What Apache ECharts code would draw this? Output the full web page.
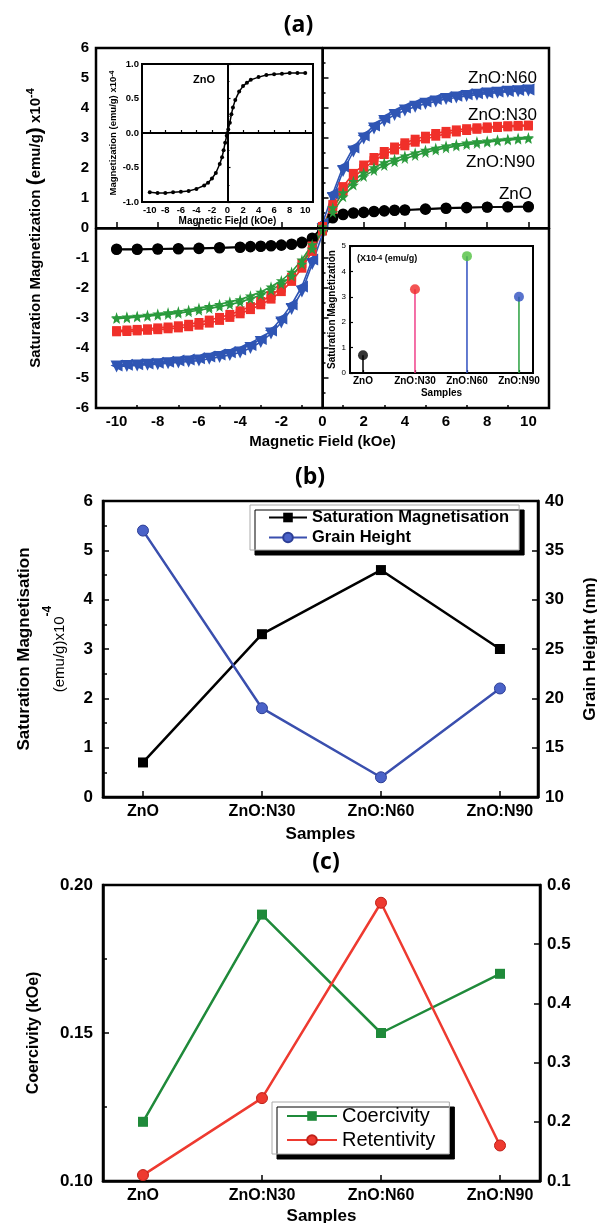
<!DOCTYPE html>
<html><head><meta charset="utf-8">
<script src="https://cdn.jsdelivr.net/npm/echarts@6/dist/echarts.min.js"></script>
<style>html,body{margin:0;padding:0;background:#fff}#c{width:597px;height:1223px}</style>
</head><body><div id="c"></div>
<script>
// ---------- (a) main hysteresis loops ----------
const fieldA = [-10,-9,-8,-7,-6,-5,-4,-3.5,-3,-2.5,-2,-1.5,-1,-0.5,0,0.5,1,1.5,2,2.5,3,3.5,4,5,6,7,8,9,10];
const fieldB = [-10,-9.5,-9,-8.5,-8,-7.5,-7,-6.5,-6,-5.5,-5,-4.5,-4,-3.5,-3,-2.5,-2,-1.5,-1,-0.5,0,0.5,1,1.5,2,2.5,3,3.5,4,4.5,5,5.5,6,6.5,7,7.5,8,8.5,9,9.5,10];
const n60Up = [-4.58,-4.56,-4.54,-4.52,-4.49,-4.46,-4.42,-4.38,-4.34,-4.28,-4.22,-4.14,-4.05,-3.9,-3.7,-3.42,-3.02,-2.55,-1.95,-1.05,0.15,1.15,2.05,2.68,3.08,3.42,3.67,3.86,4.02,4.13,4.22,4.3,4.36,4.41,4.46,4.49,4.52,4.55,4.57,4.6,4.62];
const n60Dn = [-4.62,-4.6,-4.58,-4.56,-4.54,-4.51,-4.48,-4.45,-4.42,-4.36,-4.3,-4.23,-4.15,-4.0,-3.8,-3.52,-3.15,-2.7,-2.12,-1.2,-0.2,1.0,1.9,2.55,2.98,3.32,3.57,3.77,3.92,4.04,4.14,4.22,4.3,4.35,4.4,4.44,4.48,4.51,4.54,4.56,4.58];
const n30Up = [-3.42,-3.4,-3.38,-3.36,-3.33,-3.3,-3.26,-3.21,-3.15,-3.07,-2.98,-2.88,-2.76,-2.62,-2.45,-2.25,-2.0,-1.64,-1.18,-0.6,0.05,0.78,1.38,1.82,2.1,2.35,2.55,2.7,2.84,2.96,3.06,3.15,3.22,3.27,3.31,3.34,3.37,3.39,3.41,3.42,3.43];
const n30Dn = [-3.46,-3.45,-3.43,-3.41,-3.39,-3.36,-3.33,-3.29,-3.24,-3.17,-3.08,-2.98,-2.86,-2.72,-2.56,-2.37,-2.12,-1.78,-1.34,-0.78,-0.1,0.62,1.22,1.68,1.98,2.24,2.45,2.6,2.74,2.86,2.97,3.06,3.14,3.2,3.25,3.29,3.32,3.35,3.37,3.39,3.4];
const n90Up = [-2.98,-2.96,-2.93,-2.9,-2.86,-2.82,-2.78,-2.73,-2.67,-2.61,-2.54,-2.46,-2.38,-2.26,-2.13,-1.96,-1.75,-1.47,-1.06,-0.55,0.05,0.68,1.18,1.56,1.84,2.02,2.18,2.3,2.41,2.51,2.6,2.67,2.74,2.79,2.84,2.88,2.91,2.94,2.97,3.0,3.02];
const n90Dn = [-3.02,-3.0,-2.97,-2.94,-2.91,-2.88,-2.84,-2.79,-2.74,-2.68,-2.62,-2.55,-2.47,-2.36,-2.23,-2.07,-1.87,-1.6,-1.2,-0.7,-0.08,0.52,1.04,1.43,1.72,1.92,2.08,2.21,2.32,2.42,2.52,2.6,2.67,2.73,2.78,2.82,2.86,2.9,2.93,2.96,2.98];
const znoUp = [-0.7,-0.7,-0.69,-0.68,-0.67,-0.65,-0.63,-0.61,-0.6,-0.58,-0.56,-0.53,-0.47,-0.33,0.05,0.38,0.47,0.51,0.53,0.56,0.58,0.6,0.61,0.64,0.67,0.69,0.7,0.71,0.72];
const znoDn = [-0.72,-0.72,-0.71,-0.7,-0.69,-0.67,-0.65,-0.63,-0.62,-0.6,-0.58,-0.55,-0.5,-0.38,-0.05,0.33,0.44,0.49,0.51,0.54,0.56,0.58,0.59,0.62,0.65,0.67,0.69,0.7,0.7];
const fieldTicks = [-10,-8,-6,-4,-2,0,2,4,6,8,10];
const fieldMinorTicks = [-9,-7,-5,-3,-1,1,3,5,7,9];
const curveLabels = ['ZnO:N60','ZnO:N30','ZnO:N90','ZnO'];

// ---------- (a) inset 1: ZnO loop ----------
const insetField = [-10,-9,-8,-7,-6,-5,-4,-3,-2.5,-2,-1.5,-1,-0.7,-0.5,-0.3,-0.1,0,0.1,0.3,0.5,0.7,1,1.5,2,2.5,3,4,5,6,7,8,9,10];
const insetMag = [-0.86,-0.87,-0.87,-0.86,-0.85,-0.84,-0.81,-0.76,-0.72,-0.66,-0.58,-0.45,-0.35,-0.25,-0.14,-0.04,0,0.05,0.15,0.27,0.37,0.48,0.6,0.68,0.73,0.77,0.81,0.84,0.85,0.86,0.87,0.87,0.87];

// ---------- samples (inset 2, b, c) ----------
const samples = ['ZnO','ZnO:N30','ZnO:N60','ZnO:N90'];
const samplePos = [1,2,3,4];
const satMag = [0.7,3.3,4.6,3.0];
const grainHeight = [37,19,12,21];
const coercivity = [0.12,0.19,0.15,0.17];
const retentivity = [0.11,0.24,0.57,0.16];

const FF = '"Liberation Sans", Arial, sans-serif';
const BLK = '#000';
const C_BLUE = '#2f55b4', C_RED = '#f0302a', C_GREEN = '#2a9a3c';
const STAR = 'path://M50,0 L61,35 L98,35 L68,57 L79,91 L50,70 L21,91 L32,57 L2,35 L39,35 Z';

const pts = (xs, ys) => xs.map((x, i) => [x, ys[i]]);
const lbl = (size, bold) => ({color: BLK, fontSize: size, fontWeight: bold ? 'bold' : 'normal', fontFamily: FF});

function loop(name, xs, up, dn, color, sym, size, rotUp, rotDn) {
  const base = {type: 'line', xAxisIndex: 0, yAxisIndex: 0, symbol: sym, symbolSize: size,
    lineStyle: {color: color, width: 1.6}, itemStyle: {color: color}, z: 3};
  return [
    Object.assign({}, base, {name: name + ' up', data: pts(xs, up), symbolRotate: rotUp}),
    Object.assign({}, base, {name: name + ' down', data: pts(xs, dn), symbolRotate: rotDn})
  ];
}

const stemColors = ['#000', '#f0408a', '#3050c0', '#2aa040'];
const dotColors = ['#000', '#f02828', '#50c040', '#3050c0'];

const series = [].concat(
  loop('ZnO', fieldA, znoUp, znoDn, BLK, 'circle', 11, 0, 0),
  loop('ZnO:N60', fieldB, n60Up, n60Dn, C_BLUE, 'triangle', 12, 90, 180),
  loop('ZnO:N30', fieldB, n30Up, n30Dn, C_RED, 'rect', 9, 0, 0),
  loop('ZnO:N90', fieldB, n90Up, n90Dn, C_GREEN, STAR, 11, 0, 0)
);
series[0].markLine = {silent: true, symbol: ['none','none'], label: {show: false},
  lineStyle: {color: BLK, width: 2, type: 'solid'}, data: [{xAxis: 0}, {yAxis: 0}]};

series.push({type: 'line', name: 'inset ZnO', xAxisIndex: 2, yAxisIndex: 1, data: pts(insetField, insetMag),
  symbol: 'circle', symbolSize: 4, lineStyle: {color: BLK, width: 1.5}, itemStyle: {color: BLK}, z: 5,
  markLine: {silent: true, symbol: ['none','none'], label: {show: false},
    lineStyle: {color: BLK, width: 1.5, type: 'solid'}, data: [{xAxis: 0}, {yAxis: 0}]}});

samples.forEach((s, i) => {
  series.push({type: 'line', name: 'stem ' + s, xAxisIndex: 3, yAxisIndex: 2,
    data: [[samplePos[i], 0], [samplePos[i], satMag[i]]], showSymbol: false,
    lineStyle: {color: stemColors[i], width: 1.5}, z: 5});
  series.push({type: 'scatter', name: 'dot ' + s, xAxisIndex: 3, yAxisIndex: 2,
    data: [[samplePos[i], satMag[i]]], symbolSize: 10, itemStyle: {color: dotColors[i]}, z: 6});
});

series.push({type: 'line', name: 'Saturation Magnetisation', xAxisIndex: 4, yAxisIndex: 3,
  data: pts(samplePos, satMag), symbol: 'rect', symbolSize: 10,
  lineStyle: {color: BLK, width: 2.5}, itemStyle: {color: BLK}});
series.push({type: 'line', name: 'Grain Height', xAxisIndex: 4, yAxisIndex: 4,
  data: pts(samplePos, grainHeight), symbol: 'circle', symbolSize: 11,
  lineStyle: {color: '#3a4fae', width: 2.5}, itemStyle: {color: '#4a62c8', borderColor: '#2d3f96', borderWidth: 1}});
series.push({type: 'line', name: 'Coercivity', xAxisIndex: 5, yAxisIndex: 5,
  data: pts(samplePos, coercivity), symbol: 'rect', symbolSize: 10,
  lineStyle: {color: '#1f8a3a', width: 2.5}, itemStyle: {color: '#1f8a3a'}});
series.push({type: 'line', name: 'Retentivity', xAxisIndex: 5, yAxisIndex: 6,
  data: pts(samplePos, retentivity), symbol: 'circle', symbolSize: 11,
  lineStyle: {color: '#ee3a30', width: 2.5}, itemStyle: {color: '#ee3a30', borderColor: '#c02018', borderWidth: 1}});

const axLine = (w) => ({show: true, lineStyle: {color: BLK, width: w}});
const tick = (len, w) => ({show: true, inside: true, length: len, lineStyle: {color: BLK, width: w}});
const catFmt = v => samples[samplePos.indexOf(v)] || '';

const option = {
  animation: false,
  backgroundColor: '#fff',
  grid: [
    {left: 96, top: 48, width: 453, height: 360, show: true, borderColor: BLK, borderWidth: 2.5, backgroundColor: 'transparent', outerBoundsMode: 'none', containLabel: false},
    {left: 142, top: 64, width: 171, height: 138, show: true, borderColor: BLK, borderWidth: 2, backgroundColor: '#fff', z: 4, outerBoundsMode: 'none', containLabel: false},
    {left: 350, top: 246, width: 183, height: 127, show: true, borderColor: BLK, borderWidth: 2, backgroundColor: '#fff', z: 4, outerBoundsMode: 'none', containLabel: false},
    {left: 103, top: 501, width: 435, height: 296, show: true, borderColor: BLK, borderWidth: 2.5, outerBoundsMode: 'none', containLabel: false},
    {left: 103, top: 885, width: 437, height: 296, show: true, borderColor: BLK, borderWidth: 2.5, outerBoundsMode: 'none', containLabel: false}
  ],
  xAxis: [
    {gridIndex: 0, type: 'value', min: -11, max: 11, position: 'bottom', axisLine: axLine(2.5),
      axisTick: Object.assign(tick(6, 1.5), {customValues: fieldTicks}),
      axisLabel: Object.assign(lbl(15, true), {customValues: fieldTicks, margin: 6}),
      splitLine: {show: false},
      name: 'Magnetic Field (kOe)', nameLocation: 'middle', nameGap: 26, nameTextStyle: lbl(15, true)},
    {gridIndex: 0, type: 'value', min: -11, max: 11, position: 'bottom', axisLine: {show: false},
      axisTick: Object.assign(tick(3, 1.5), {customValues: fieldMinorTicks}),
      axisLabel: {show: false}, splitLine: {show: false}},
    {gridIndex: 1, type: 'value', min: -11, max: 11, position: 'bottom', axisLine: axLine(2),
      axisTick: Object.assign(tick(3, 1.2), {customValues: fieldTicks}),
      axisLabel: Object.assign(lbl(9.5, true), {customValues: fieldTicks, margin: 3}),
      splitLine: {show: false}, z: 5,
      name: 'Magnetic Field (kOe)', nameLocation: 'middle', nameGap: 13, nameTextStyle: lbl(10, true)},
    {gridIndex: 2, type: 'value', min: 0.75, max: 4.27, position: 'bottom', axisLine: axLine(2),
      axisTick: Object.assign(tick(3, 1.2), {customValues: samplePos}),
      axisLabel: Object.assign(lbl(10, true), {customValues: samplePos, formatter: catFmt, margin: 3}),
      splitLine: {show: false}, z: 5,
      name: 'Samples', nameLocation: 'middle', nameGap: 15, nameTextStyle: lbl(10, true)},
    {gridIndex: 3, type: 'value', min: 0.664, max: 4.32, position: 'bottom', axisLine: axLine(2.5),
      axisTick: Object.assign(tick(6, 1.5), {customValues: samplePos}),
      axisLabel: Object.assign(lbl(16, true), {customValues: samplePos, formatter: catFmt, margin: 7}),
      splitLine: {show: false},
      name: 'Samples', nameLocation: 'middle', nameGap: 29, nameTextStyle: lbl(17, true)},
    {gridIndex: 4, type: 'value', min: 0.664, max: 4.336, position: 'bottom', axisLine: axLine(2.5),
      axisTick: Object.assign(tick(6, 1.5), {customValues: samplePos}),
      axisLabel: Object.assign(lbl(16, true), {customValues: samplePos, formatter: catFmt, margin: 7}),
      splitLine: {show: false},
      name: 'Samples', nameLocation: 'middle', nameGap: 27, nameTextStyle: lbl(17, true)}
  ],
  yAxis: [
    {gridIndex: 0, type: 'value', min: -6, max: 6, interval: 1, position: 'left', axisLine: axLine(2.5),
      axisTick: tick(6, 1.5), minorTick: {show: true, splitNumber: 2, length: 3, lineStyle: {color: BLK, width: 1.5}},
      axisLabel: Object.assign(lbl(15, true), {margin: 7}), splitLine: {show: false}, minorSplitLine: {show: false},
      name: '{t|Saturation Magnetization }{p|(}{t|emu/g}{p|)}{t| x10}{s|-4}', nameLocation: 'middle', nameRotate: 90, nameGap: 50,
      nameTextStyle: {rich: {t: lbl(15, true), p: lbl(21, true), s: Object.assign(lbl(11, true), {verticalAlign: 'top'})}}},
    {gridIndex: 1, type: 'value', min: -1, max: 1, interval: 0.5, position: 'left', axisLine: axLine(2),
      axisTick: tick(3, 1.2), minorTick: {show: true, splitNumber: 2, length: 2, lineStyle: {color: BLK}},
      axisLabel: Object.assign(lbl(9.5, true), {margin: 3, formatter: v => v.toFixed(1)}), splitLine: {show: false}, z: 5,
      name: '{t|Magnetization (emu/g) x10}{s|-4}', nameLocation: 'middle', nameRotate: 90, nameGap: 22,
      nameTextStyle: {rich: {t: lbl(9.5, true), s: Object.assign(lbl(7, true), {verticalAlign: 'top'})}}},
    {gridIndex: 2, type: 'value', min: 0, max: 5, interval: 1, position: 'left', axisLine: axLine(2),
      axisTick: tick(3, 1.2), axisLabel: Object.assign(lbl(8, false), {margin: 4}), splitLine: {show: false}, z: 5,
      name: 'Saturation Magnetization', nameLocation: 'middle', nameRotate: 90, nameGap: 10, nameTextStyle: lbl(10, true)},
    {gridIndex: 3, type: 'value', min: 0, max: 6, interval: 1, position: 'left', axisLine: axLine(2.5),
      axisTick: tick(6, 1.5), minorTick: {show: true, splitNumber: 2, length: 4, lineStyle: {color: BLK, width: 1.5}},
      axisLabel: Object.assign(lbl(17, true), {margin: 10}), splitLine: {show: false}, minorSplitLine: {show: false},
      name: '{a|Saturation Magnetisation}\n{b|(emu/g)x10}{s|-4}', nameLocation: 'middle', nameRotate: 90, nameGap: 25,
      nameTextStyle: {rich: {a: Object.assign(lbl(17, true), {lineHeight: 36}), b: Object.assign(lbl(15, false), {lineHeight: 36}), s: Object.assign(lbl(12, true), {verticalAlign: 'top', lineHeight: 36})}}},
    {gridIndex: 3, type: 'value', min: 10, max: 40, interval: 5, position: 'right', axisLine: axLine(2.5),
      axisTick: tick(6, 1.5), axisLabel: Object.assign(lbl(17, true), {margin: 7}), splitLine: {show: false},
      name: 'Grain Height (nm)', nameLocation: 'middle', nameRotate: 90, nameGap: 44, nameTextStyle: lbl(17, true)},
    {gridIndex: 4, type: 'value', min: 0.10, max: 0.20, interval: 0.05, position: 'left', axisLine: axLine(2.5),
      axisTick: tick(6, 1.5), minorTick: {show: true, splitNumber: 2, length: 4, lineStyle: {color: BLK, width: 1.5}},
      axisLabel: Object.assign(lbl(17, true), {margin: 10, formatter: v => v.toFixed(2)}), splitLine: {show: false}, minorSplitLine: {show: false},
      name: 'Coercivity (kOe)', nameLocation: 'middle', nameRotate: 90, nameGap: 61, nameTextStyle: lbl(16, true)},
    {gridIndex: 4, type: 'value', min: 0.1, max: 0.6, interval: 0.1, position: 'right', axisLine: axLine(2.5),
      axisTick: tick(6, 1.5), axisLabel: Object.assign(lbl(17, true), {margin: 7, formatter: v => v.toFixed(1)}), splitLine: {show: false}}
  ],
  legend: [
    {data: ['Saturation Magnetisation', 'Grain Height'], left: 250, top: 505, orient: 'vertical',
      backgroundColor: '#fff', borderColor: '#aaa', borderWidth: 1, borderRadius: 0,
      shadowColor: '#000', shadowOffsetX: 5, shadowOffsetY: 5, shadowBlur: 0,
      padding: [4, 10, 4, 18], itemGap: 3, itemWidth: 38, itemHeight: 12, textStyle: lbl(16.5, true)},
    {data: ['Coercivity', 'Retentivity'], left: 272, top: 1102, orient: 'vertical',
      backgroundColor: '#fff', borderColor: '#aaa', borderWidth: 1, borderRadius: 0,
      shadowColor: '#000', shadowOffsetX: 5, shadowOffsetY: 5, shadowBlur: 0,
      padding: [4, 14, 4, 14], itemGap: 4, itemWidth: 50, itemHeight: 12, textStyle: lbl(20, false)}
  ],
  graphic: [
    {type: 'text', left: 'center', top: 14, style: {text: '(a)', font: 'bold 23px "Open Sans", sans-serif', fill: BLK}},
    {type: 'text', x: 310, y: 477, style: {text: '(b)', font: 'bold 23px "Open Sans", sans-serif', fill: BLK, align: 'center', verticalAlign: 'middle'}},
    {type: 'text', x: 326, y: 862, style: {text: '(c)', font: 'bold 23px "Open Sans", sans-serif', fill: BLK, align: 'center', verticalAlign: 'middle'}},
    {type: 'text', x: 537, y: 78, style: {text: curveLabels[0], font: '17px ' + FF, fill: BLK, align: 'right', verticalAlign: 'middle'}},
    {type: 'text', x: 537, y: 115, style: {text: curveLabels[1], font: '17px ' + FF, fill: BLK, align: 'right', verticalAlign: 'middle'}},
    {type: 'text', x: 535, y: 162, style: {text: curveLabels[2], font: '17px ' + FF, fill: BLK, align: 'right', verticalAlign: 'middle'}},
    {type: 'text', x: 532, y: 194, style: {text: curveLabels[3], font: '17px ' + FF, fill: BLK, align: 'right', verticalAlign: 'middle'}},
    {type: 'text', x: 193, y: 80, z: 10, style: {text: 'ZnO', font: 'bold 11px ' + FF, fill: BLK, align: 'left', verticalAlign: 'middle'}},
    {type: 'text', x: 357, y: 259, z: 10, style: {text: '{t|(X10}{s|-4}{t| (emu/g)}', fill: BLK,
      rich: {t: {font: 'bold 9px ' + FF, fill: BLK}, s: {font: 'bold 7px ' + FF, fill: BLK, verticalAlign: 'top'}}, verticalAlign: 'middle'}}
  ],
  series: series
};

const chart = echarts.init(document.getElementById('c'), null, {renderer: 'canvas'});
chart.setOption(option);
</script>
</body></html>
